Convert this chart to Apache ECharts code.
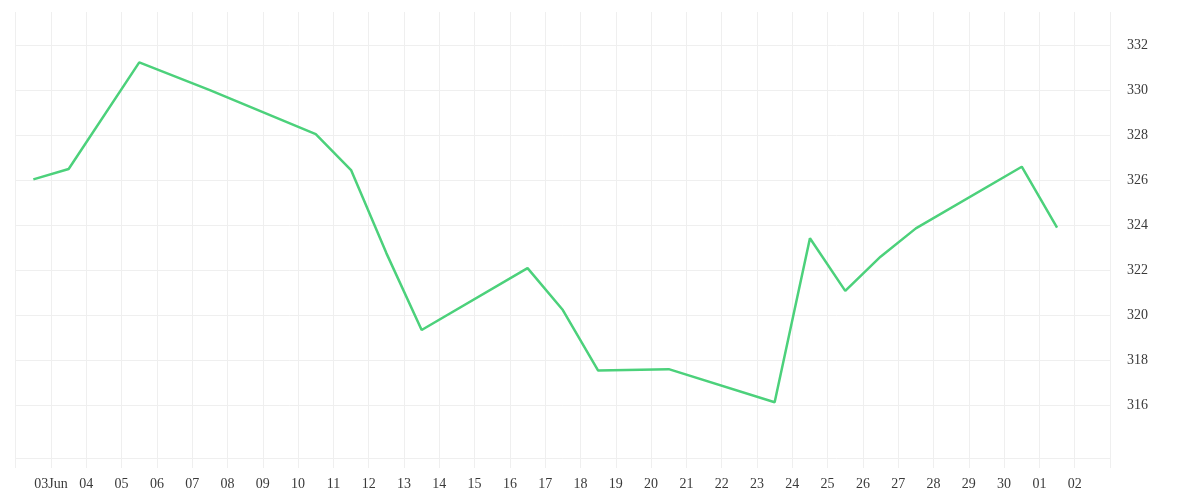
<!DOCTYPE html>
<html>
<head>
<meta charset="utf-8">
<script src="https://cdn.jsdelivr.net/npm/echarts@6/dist/echarts.min.js"></script>
<style>html,body{margin:0;padding:0;background:#fff}#c{width:1200px;height:500px}</style>
</head>
<body>
<div id="c"></div>
<script>
// Axis start date (first gridline) and daily tick labels
const startDate = '2024-06-02';
const xTickLabels = ['', '03Jun', '04', '05', '06', '07', '08', '09', '10', '11', '12', '13', '14', '15', '16', '17', '18', '19', '20', '21', '22', '23', '24', '25', '26', '27', '28', '29', '30', '01', '02', ''];
const yTickLabels = [316, 318, 320, 322, 324, 326, 328, 330, 332];

// Series: dates and values
const dates = ['2024-06-02', '2024-06-03', '2024-06-05', '2024-06-07', '2024-06-10', '2024-06-11', '2024-06-12', '2024-06-13', '2024-06-16', '2024-06-17', '2024-06-18', '2024-06-20', '2024-06-23', '2024-06-24', '2024-06-25', '2024-06-26', '2024-06-27', '2024-06-30', '2024-07-01'];
const values = [326.03, 326.49, 331.23, 330.0, 328.04, 326.44, 322.75, 319.33, 322.08, 320.22, 317.53, 317.59, 316.12, 323.41, 321.07, 322.59, 323.85, 326.59, 323.88];

const DAY = 86400000;
const t0 = Date.parse(startDate + 'T00:00:00Z');
const seriesData = dates.map((d, i) => [(Date.parse(d + 'T12:00:00Z') - t0) / DAY, values[i]]);

const gridColor = '#efefef';
const textStyle = { fontFamily: 'Liberation Serif', fontSize: 14, color: '#3a3a3a' };

const chart = echarts.init(document.getElementById('c'), null, { renderer: 'canvas' });
chart.setOption({
  animation: false,
  backgroundColor: '#ffffff',
  grid: { left: 15.7, right: 90, top: 12, bottom: 42, containLabel: false },
  xAxis: {
    type: 'value',
    min: 0,
    max: xTickLabels.length - 1,
    interval: 1,
    axisLine: { show: true, lineStyle: { color: gridColor, width: 1 } },
    axisTick: { show: true, length: 10, lineStyle: { color: gridColor, width: 1 } },
    splitLine: { show: true, lineStyle: { color: gridColor, width: 1 } },
    axisLabel: Object.assign({
      margin: 19,
      showMinLabel: true,
      showMaxLabel: true,
      formatter: v => xTickLabels[Math.round(v)] || ''
    }, textStyle)
  },
  yAxis: {
    type: 'value',
    position: 'right',
    min: 313.64,
    max: 333.47,
    splitNumber: 10,
    axisLine: { show: false },
    axisTick: { show: false },
    splitLine: { show: false },
    axisLabel: Object.assign({
      margin: 17,
      padding: [4, 0, 0, 0],
      formatter: v => (yTickLabels.indexOf(Math.round(v * 100) / 100) >= 0 ? String(v) : '')
    }, textStyle)
  },
  series: [{
    type: 'line',
    data: seriesData,
    symbol: 'none',
    lineStyle: { color: '#4cd17b', width: 2.5 },
    z: 3,
    markLine: {
      silent: true,
      symbol: ['none', 'none'],
      label: { show: false },
      lineStyle: { color: gridColor, width: 1, type: 'solid' },
      z: 1,
      data: yTickLabels.map(v => ({ yAxis: v }))
    }
  }]
});
</script>
</body>
</html>
